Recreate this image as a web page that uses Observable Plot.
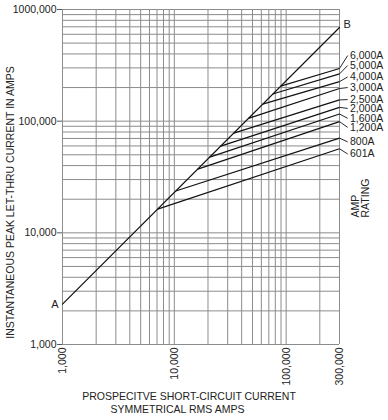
<!DOCTYPE html>
<html><head><meta charset="utf-8">
<script src="https://cdn.jsdelivr.net/npm/d3@7"></script>
<script src="https://cdn.jsdelivr.net/npm/@observablehq/plot@0.6"></script>
<style>
body{margin:0;background:#fff;}
svg{font-family:"Liberation Sans",Arial,sans-serif;}
</style>
</head><body><div id="chart"></div>
<script>
// Amp ratings (fuse lines)
const ratings = ["601A","800A","1,200A","1,600A","2,000A","2,500A","3,000A","4,000A","5,000A","6,000A"];
// where each fuse line leaves the A-B line (prospective RMS amps, peak amps)
const startRms  = [7100, 10300, 16200, 20700, 26000, 34000, 46000, 61700, 75800, 89500];
const startPeak = [16300, 23700, 37200, 47600, 59700, 78200, 106000, 142000, 175000, 206000];
// end of each fuse line at 300,000 A
const endRms = 300000;
const endPeak   = [56600, 70500, 99000, 116000, 133000, 155000, 196000, 226000, 265000, 296000];
// label levels (peak amps) for the rating labels
const labelPeak = [50800, 65200, 88000, 106000, 130000, 156000, 200000, 249000, 315000, 387000];
// A-B line
const diagRms  = [1000, 300000];
const diagPeak = [2300, 690000];
const diagLabels = ["A", "B"];
// ticks
const xTicks = [1000, 10000, 100000, 300000];
const xTickLabels = ["1,000", "10,000", "100,000", "300,000"];
const yTicks = [1000, 10000, 100000, 1000000];
const yTickLabels = ["1,000", "10,000", "100,000", "1000,000"];
// grid
const xGrid = [1000,2000,3000,4000,5000,6000,7000,8000,9000,
               10000,20000,30000,40000,50000,60000,70000,80000,90000,
               100000,200000,300000];
const yGrid = [1000,2000,3000,4000,5000,6000,7000,8000,9000,
               10000,20000,30000,40000,50000,60000,70000,80000,90000,
               100000,200000,300000,400000,500000,600000,700000,800000,900000,1000000];

const leaderX = 355000, labelX = 372000;

const fuses = ratings.map((r, i) => ({r, x1: startRms[i], y1: startPeak[i], x2: endRms, y2: endPeak[i], ly: labelPeak[i]}));
const diag = diagRms.map((x, i) => ({x, y: diagPeak[i], t: diagLabels[i]}));

const ink = "#222";
const chart = Plot.plot({
  width: 388, height: 420,
  marginLeft: 62, marginRight: 49, marginTop: 9, marginBottom: 76,
  style: {fontFamily: "Liberation Sans, Arial, sans-serif", fontSize: "10.5px", color: ink, background: "#fff", overflow: "visible"},
  x: {type: "log", domain: [1000, 300000]},
  y: {type: "log", domain: [1000, 1000000]},
  marks: [
    Plot.gridX(xGrid, {stroke: "#8c8c8c", strokeOpacity: 1, strokeWidth: 1}),
    Plot.gridY(yGrid, {stroke: "#8c8c8c", strokeOpacity: 1, strokeWidth: 1}),
    Plot.axisX({ticks: xTicks, tickFormat: d => xTickLabels[xTicks.indexOf(d)], tickRotate: -90, tickSize: 0, tickPadding: 3, label: null, fill: ink}),
    Plot.axisY({ticks: yTicks, tickFormat: d => yTickLabels[yTicks.indexOf(d)], tickSize: 5, tickPadding: 1, label: null, fill: ink, stroke: "#555"}),
    Plot.line(diag, {x: "x", y: "y", stroke: "#111", strokeWidth: 1.2}),
    Plot.text(diag.slice(0,1), {x: "x", y: "y", text: "t", textAnchor: "end", dx: -4, fill: ink, fontSize: 11}),
    Plot.text(diag.slice(1), {x: "x", y: "y", text: "t", textAnchor: "start", dx: 4, dy: -3, fill: ink, fontSize: 11}),
    Plot.link(fuses, {x1: "x1", y1: "y1", x2: "x2", y2: "y2", stroke: "#111", strokeWidth: 1.2}),
    Plot.link(fuses, {x1: "x2", y1: "y2", x2: () => leaderX, y2: "ly", stroke: "#111", strokeWidth: 0.9}),
    Plot.text(fuses, {x: () => labelX, y: "ly", text: "r", textAnchor: "start", fill: ink}),
    Plot.text(["AMP\nRATING"], {frameAnchor: "right", rotate: -90, textAnchor: "start", lineAnchor: "middle", lineHeight: 0.95, dx: 21, dy: 40.5, fill: ink}),
    Plot.text(["INSTANTANEOUS PEAK LET-THRU CURRENT IN AMPS"], {frameAnchor: "left", rotate: -90, textAnchor: "middle", lineAnchor: "middle", dx: -52, dy: 25.5, fill: ink}),
    Plot.text(["PROSPECITVE SHORT-CIRCUIT CURRENT"], {frameAnchor: "bottom", textAnchor: "middle", lineAnchor: "middle", dx: -12, dy: 52.5, fill: ink}),
    Plot.text(["SYMMETRICAL RMS AMPS"], {frameAnchor: "bottom", textAnchor: "middle", lineAnchor: "middle", dx: -23.5, dy: 65, fill: ink})
  ]
});
document.getElementById("chart").appendChild(chart);
</script>
</body></html>
